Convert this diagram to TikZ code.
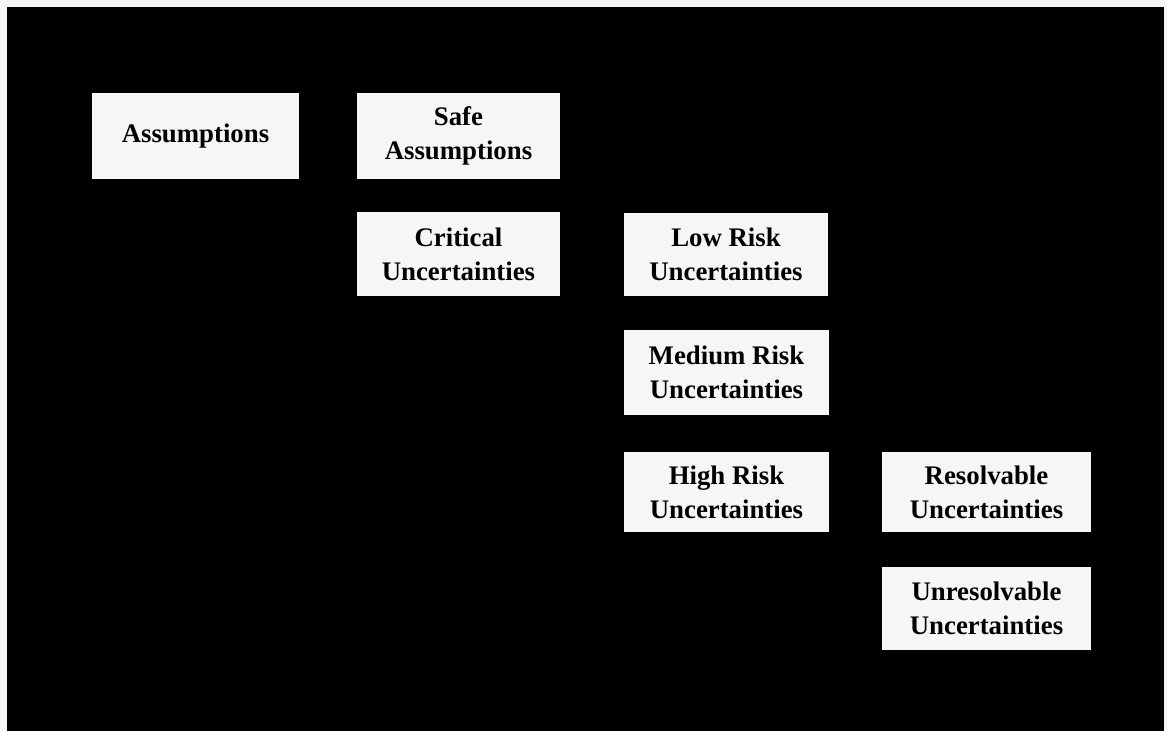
\documentclass[tikz,border=0pt]{standalone}
\usepackage{fontspec}
\setmainfont{Liberation Serif}
\definecolor{paper}{RGB}{245,245,245}
\definecolor{boxfill}{RGB}{246,246,246}
\begin{document}
\begin{tikzpicture}[x=1pt,y=-1pt,
  cat/.style={fill=boxfill, draw=none, inner sep=0pt, align=center,
    font=\fontsize{26.8}{34}\selectfont\bfseries, text=black},
  ]
  % page and dark panel
  \useasboundingbox (0,0) rectangle (1167,731);
  \fill[paper] (0,0) rectangle (1167,731);
  \fill[black] (7,7) rectangle (1164,731);

  % category boxes, placed by their centres
  \node[cat, minimum width=207pt, minimum height=86pt] (assume) at (195.5,136) {Assumptions};
  \node[cat, minimum width=203pt, minimum height=86pt] (safe) at (458.5,136) {Safe\\Assumptions};
  \node[cat, minimum width=203pt, minimum height=84pt] (critical) at (458.5,254) {Critical\\Uncertainties};
  \node[cat, minimum width=204pt, minimum height=83pt] (low) at (726,254.5) {Low Risk\\Uncertainties};
  \node[cat, minimum width=205pt, minimum height=85pt] (medium) at (726.5,372.5) {Medium Risk\\Uncertainties};
  \node[cat, minimum width=205pt, minimum height=80pt] (high) at (726.5,492) {High Risk\\Uncertainties};
  \node[cat, minimum width=209pt, minimum height=80pt] (resolv) at (986.5,492) {Resolvable\\Uncertainties};
  \node[cat, minimum width=209pt, minimum height=83pt] (unresolv) at (986.5,608.5) {Unresolvable\\Uncertainties};
\end{tikzpicture}
\end{document}
